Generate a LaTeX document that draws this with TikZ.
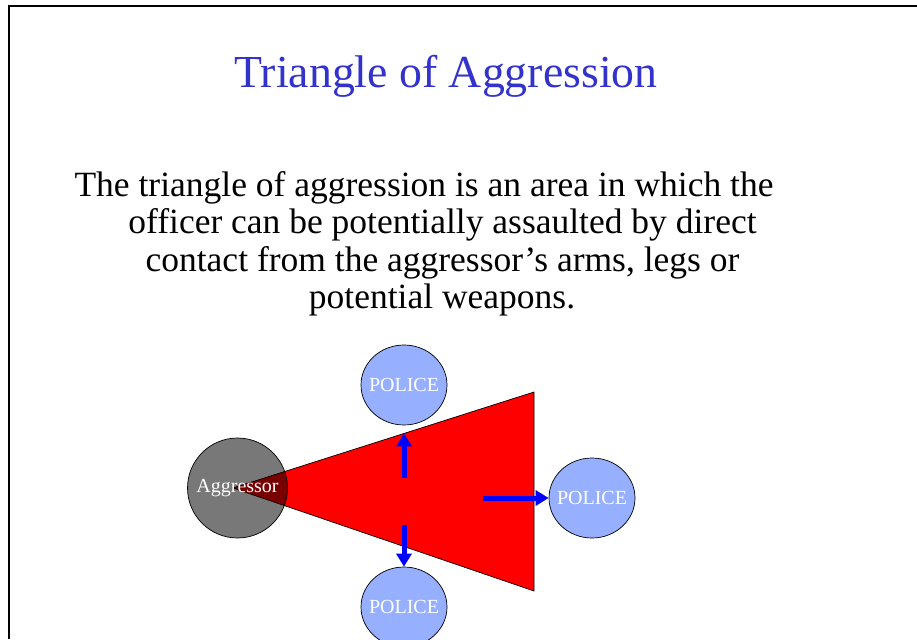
\documentclass[tikz,border=0pt]{standalone}
\usepackage{fontspec}
\setmainfont{Liberation Serif}
\usetikzlibrary{arrows.meta,shapes.geometric}
\definecolor{titleblue}{RGB}{51,51,204}
\definecolor{policeblue}{RGB}{150,176,255}
\definecolor{agggray}{RGB}{120,120,120}
\definecolor{darkred}{RGB}{120,0,0}
\newcommand{\zerobox}[1]{\makebox[0pt]{#1}}
\begin{document}
\begin{tikzpicture}[x=1pt,y=-1pt,
  bodytext/.style={anchor=base, inner sep=0pt, font=\fontsize{35.5}{42}\selectfont},
  police/.style={ellipse, draw=black, line width=0.7pt, fill=policeblue, minimum width=86pt, minimum height=80pt, inner sep=0pt, text=white, font=\fontsize{20}{24}\selectfont},
  push/.style={draw=blue, line width=5pt, -{Triangle[length=13pt,width=15pt]}},
  thinline/.style={draw=black, line width=0.7pt}
]
\useasboundingbox (0,0) rectangle (917,639);
\fill[white] (0,0) rectangle (917,639);
% frame
\draw[line width=2.2pt] (9,639) -- (9,6) -- (917,6);
% title and body
\node[anchor=base, inner sep=0pt, text=titleblue, font=\fontsize{45.8}{55}\selectfont] (title) at (446,88) {Triangle of Aggression};
\node[bodytext] (l1) at (424,196) {The triangle of aggression is an area in which the};
\node[bodytext] (l2) at (442.5,233) {officer can be potentially assaulted by direct};
\node[bodytext] (l3) at (442.5,271) {contact from the aggressor’s arms, legs or};
\node[bodytext] (l4) at (442,308) {potential weapons.};
% aggressor and triangle
\fill[agggray] (237.5,488) circle[radius=50];
\coordinate (apex) at (233,488);
\coordinate (tr) at (534,392);
\coordinate (br) at (534,591);
\fill[red] (apex) -- (tr) -- (br) -- cycle;
\begin{scope}
  \clip (237.5,488) circle[radius=50];
  \fill[darkred] (apex) -- (tr) -- (br) -- cycle;
\end{scope}
\draw[thinline] (apex) -- (tr) -- (br) -- cycle;
\node[circle, thinline, minimum size=100pt, inner sep=0pt, text=white, font=\fontsize{20}{24}\selectfont] (agg) at (237.5,488) {\zerobox{Aggressor}};
% police
\node[police] (pt) at (404,385) {\zerobox{POLICE}};
\node[police] (pr) at (592,498) {\zerobox{POLICE}};
\node[police] (pb) at (404,607) {\zerobox{POLICE}};
% arrows
\coordinate (a1) at (404,478);
\coordinate (a2) at (404,525);
\coordinate (a3) at (483,498);
\draw[push, shorten >=8pt] (a1) -- (pt.south);
\draw[push] (a2) -- (pb.north);
\draw[push] (a3) -- (pr.west);
\end{tikzpicture}
\end{document}
